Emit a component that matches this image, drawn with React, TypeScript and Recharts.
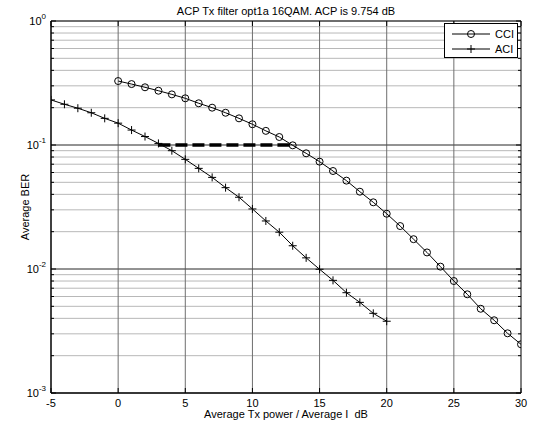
import React from "react";
import {
  CartesianGrid,
  Line,
  LineChart,
  ReferenceLine,
  XAxis,
  YAxis
} from "recharts";

// values
const cciX = [0, 1, 2, 3, 4, 5, 6, 7, 8, 9, 10, 11, 12, 13, 14, 15, 16, 17, 18, 19, 20, 21, 22, 23, 24, 25, 26, 27, 28, 29, 30];
const cciBer = [
  0.328, 0.31, 0.292, 0.274, 0.256, 0.238, 0.217, 0.2, 0.182, 0.164, 0.147, 0.13, 0.116, 0.0994,
  0.0857, 0.0734, 0.0617, 0.0516, 0.042, 0.0345, 0.0279, 0.0222, 0.0174, 0.0136, 0.01045, 0.008,
  0.00625, 0.00478, 0.00386, 0.00303, 0.00247
];
const aciX = [-5, -4, -3, -2, -1, 0, 1, 2, 3, 4, 5, 6, 7, 8, 9, 10, 11, 12, 13, 14, 15, 16, 17, 18, 19, 20];
const aciBer = [
  0.231, 0.213, 0.198, 0.182, 0.164, 0.15, 0.132, 0.117, 0.103, 0.09, 0.0766, 0.0648, 0.0548, 0.0453,
  0.0379, 0.0305, 0.0244, 0.0198, 0.0154, 0.0123, 0.00995, 0.0081, 0.00644, 0.00538, 0.00439, 0.00379
];
const acpX = [3, 13];
const acpBer = [0.1, 0.1];

const xTicks = [-5, 0, 5, 10, 15, 20, 25, 30];
const yDecades = [0.001, 0.01, 0.1, 1];
const minorSteps = [2, 3, 4, 5, 6, 7, 8, 9];

const title = "ACP Tx filter opt1a 16QAM. ACP is 9.754 dB";
const xLabel = "Average Tx power / Average I  dB";
const yLabel = "Average BER";

const cciData = cciX.map((x, i) => ({ x, y: cciBer[i] }));
const aciData = aciX.map((x, i) => ({ x, y: aciBer[i] }));
const acpData = acpX.map((x, i) => ({ x, y: acpBer[i] }));

const yMinor = yDecades.slice(0, -1).flatMap((d) => minorSteps.map((m) => +(d * m).toPrecision(3)));
const yTicks = [...yDecades, ...yMinor].sort((a, b) => a - b);

const FONT = "'Liberation Sans', Arial, Helvetica, sans-serif";
const PLOT = { left: 51, top: 21, right: 521, bottom: 393 };

const isDecade = (v: number) => Math.abs(Math.log10(v) - Math.round(Math.log10(v))) < 1e-6;

function XTick(props: any) {
  const { x, payload } = props;
  return (
    <g>
      <line x1={x} x2={x} y1={PLOT.bottom} y2={PLOT.bottom - 5} stroke="#000" />
      <line x1={x} x2={x} y1={PLOT.top} y2={PLOT.top + 5} stroke="#000" />
      <text x={x} y={407} textAnchor="middle" fontSize={11} fontFamily={FONT} fill="#000">
        {payload.value}
      </text>
    </g>
  );
}

function YTick(props: any) {
  const { y, payload } = props;
  const v = payload.value as number;
  const major = isDecade(v);
  const len = major ? 5 : 3;
  return (
    <g>
      <line x1={PLOT.left} x2={PLOT.left + len} y1={y} y2={y} stroke="#000" />
      <line x1={PLOT.right} x2={PLOT.right - len} y1={y} y2={y} stroke="#000" />
      {major && (
        <text x={46} y={y + 4} textAnchor="end" fontSize={11} fontFamily={FONT} fill="#000">
          10
          <tspan dy={-6} fontSize={8}>
            {Math.round(Math.log10(v))}
          </tspan>
        </text>
      )}
    </g>
  );
}

function CircleDot(props: any) {
  const { cx, cy, index } = props;
  return <circle key={`c${index}`} cx={cx} cy={cy} r={3.5} fill="none" stroke="#000" strokeWidth={1} />;
}

function PlusDot(props: any) {
  const { cx, cy, index } = props;
  return (
    <g key={`p${index}`}>
      <line x1={cx - 4} x2={cx + 4} y1={cy} y2={cy} stroke="#000" />
      <line x1={cx} x2={cx} y1={cy - 4} y2={cy + 4} stroke="#000" />
    </g>
  );
}

function LegendBox() {
  return (
    <svg
      width={74}
      height={35}
      style={{ position: "absolute", left: 444, top: 23 }}
    >
      <rect x={0.5} y={0.5} width={73} height={34} fill="#fff" stroke="#000" />
      <line x1={8} x2={46} y1={11} y2={11} stroke="#000" />
      <circle cx={27} cy={11} r={3.5} fill="none" stroke="#000" />
      <text x={51} y={15} fontSize={11} fontFamily={FONT}>CCI</text>
      <line x1={8} x2={46} y1={26} y2={26} stroke="#000" />
      <line x1={23} x2={31} y1={26} y2={26} stroke="#000" />
      <line x1={27} x2={27} y1={22} y2={30} stroke="#000" />
      <text x={51} y={30} fontSize={11} fontFamily={FONT}>ACI</text>
    </svg>
  );
}

export default function App() {
  return (
    <div
      style={{
        position: "absolute",
        left: 0,
        top: 0,
        width: 535,
        height: 430,
        background: "#fff",
        fontFamily: FONT
      }}
    >
      <LineChart
        width={535}
        height={430}
        margin={{ top: PLOT.top, right: 535 - PLOT.right, left: 0, bottom: 0 }}
      >
        <CartesianGrid vertical={false} stroke="#b8b8b8" />
        <XAxis
          type="number"
          dataKey="x"
          domain={[-5, 30]}
          ticks={xTicks}
          interval={0}
          height={430 - PLOT.bottom}
          allowDataOverflow
          tickLine={false}
          axisLine={{ stroke: "#000", strokeWidth: 1.5 }}
          tick={<XTick />}
        />
        <YAxis
          type="number"
          dataKey="y"
          scale="log"
          domain={[0.001, 1]}
          ticks={yTicks}
          interval={0}
          width={PLOT.left}
          allowDataOverflow
          tickLine={false}
          axisLine={{ stroke: "#000", strokeWidth: 1.5 }}
          tick={<YTick />}
        />
        {xTicks.slice(1, -1).map((t) => (
          <ReferenceLine key={`vx${t}`} x={t} stroke="#6e6e6e" />
        ))}
        {yDecades.slice(1, -1).map((t) => (
          <ReferenceLine key={`hy${t}`} y={t} stroke="#4a4a4a" />
        ))}
        <ReferenceLine x={30} stroke="#000" />
        <ReferenceLine y={1} stroke="#000" />
        <Line
          data={cciData}
          dataKey="y"
          stroke="#000"
          strokeWidth={1}
          dot={CircleDot}
          isAnimationActive={false}
        />
        <Line
          data={aciData}
          dataKey="y"
          stroke="#000"
          strokeWidth={1}
          dot={PlusDot}
          isAnimationActive={false}
        />
        <Line
          data={acpData}
          dataKey="y"
          stroke="#000"
          strokeWidth={3.5}
          strokeDasharray="12 5"
          dot={false}
          isAnimationActive={false}
        />
      </LineChart>
      <LegendBox />
      <div
        style={{
          position: "absolute",
          left: 0,
          width: 572,
          top: 5,
          textAlign: "center",
          fontSize: 11
        }}
      >
        {title}
      </div>
      <div
        style={{
          position: "absolute",
          left: 0,
          width: 572,
          top: 408,
          textAlign: "center",
          fontSize: 11,
          whiteSpace: "pre"
        }}
      >
        {xLabel}
      </div>
      <div
        style={{
          position: "absolute",
          left: 25,
          top: 207,
          fontSize: 11,
          whiteSpace: "nowrap",
          transform: "translate(-50%, -50%) rotate(-90deg)"
        }}
      >
        {yLabel}
      </div>
    </div>
  );
}
